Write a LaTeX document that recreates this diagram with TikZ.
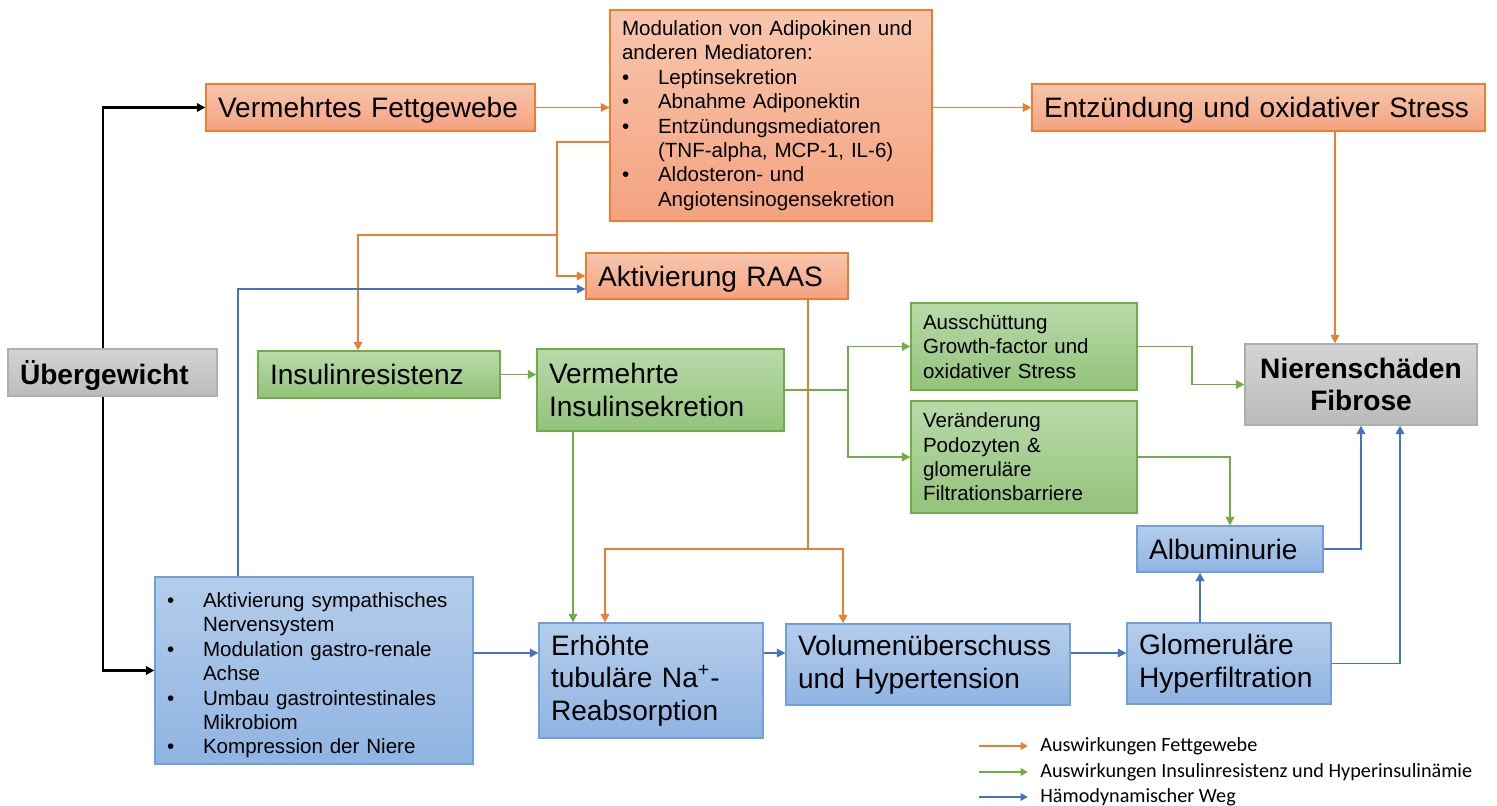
\documentclass[tikz,border=0pt]{standalone}
\usepackage{fontspec}
\setmainfont{Liberation Sans}
\newfontfamily\legendfont{Carlito}
\usetikzlibrary{arrows.meta}

\definecolor{orgline}{HTML}{ED7D31}
\definecolor{orgtop}{HTML}{F8C6AD}
\definecolor{orgbot}{HTML}{F4A27F}
\definecolor{grnline}{HTML}{70AD47}
\definecolor{grntop}{HTML}{B9D9AA}
\definecolor{grnbot}{HTML}{93C37B}
\definecolor{bluline}{HTML}{4472C4}
\definecolor{blutop}{HTML}{B4CDEB}
\definecolor{blubot}{HTML}{8FB4E2}
\definecolor{bluedge}{HTML}{6FA0DC}
\definecolor{grayline}{HTML}{AFAFAF}
\definecolor{graytop}{HTML}{D4D4D4}
\definecolor{graybot}{HTML}{BBBBBB}
\definecolor{blkline}{HTML}{000000}

\newcommand{\bigtxt}{\fontsize{16pt}{18.5pt}\selectfont}
\newcommand{\smalltxt}{\fontsize{11.7pt}{13.9pt}\selectfont}
\newcommand{\bitem}[1]{\par\noindent\hangindent=0.72cm\hangafter=1\makebox[0.72cm][l]{\textbullet}#1}

\begin{document}
\begin{tikzpicture}[
  x=0.02cm, y=-0.02cm,
  block/.style={rectangle, draw=#1line, line width=0.75pt, top color=#1top, bottom color=#1bot,
    inner xsep=0.24cm, inner ysep=0pt, align=left, font=\bigtxt},
  oneline/.style={text depth=0pt},
  link/.style={line width=1.1pt, draw=#1line},
  arrow/.style={link=#1, -{Triangle[length=0.17cm, width=0.17cm]}},
  legarrow/.style={line width=1pt, draw=#1line, -{Triangle[length=0.15cm, width=0.15cm]}},
  legend/.style={font=\legendfont\fontsize{11.5pt}{13pt}\selectfont, inner sep=0.1cm, anchor=west}
]
  \fill[white] (0,0) rectangle (1497,805);
  \useasboundingbox (0,0) rectangle (1497,805);

  % helper rows and columns
  \coordinate (row142) at (0,142);
  \coordinate (row289) at (0,289);
  \coordinate (row653) at (0,653);
  \coordinate (col103) at (103,0);
  \coordinate (col238) at (238,0);
  \coordinate (col358) at (358,0);
  \coordinate (col573) at (573,0);
  \coordinate (col605) at (605,0);
  \coordinate (col808) at (808,0);
  \coordinate (col843) at (843,0);
  \coordinate (col1192) at (1192,0);
  \coordinate (col1200) at (1200,0);
  \coordinate (col1335) at (1335,0);
  \coordinate (col1400) at (1400,0);
  \coordinate (split) at (557,235);
  \coordinate (rsplit) at (808,549);
  \coordinate (gsplit) at (848,390);

  \node[block=gray, oneline, font=\bigtxt\bfseries, text width=3.70cm, minimum height=0.94cm] (ueber) at (112.5,372.5) {Übergewicht};
  \node[block=org, oneline, text width=6.10cm, minimum height=0.94cm] (fett) at (370.5,107.5) {Vermehrtes Fettgewebe};
  \node[block=org, font=\smalltxt, text width=5.96cm, minimum height=4.22cm] (modul) at (771,115.5) {Modulation von Adipokinen und anderen Mediatoren:
    \bitem{Leptinsekretion}
    \bitem{Abnahme Adiponektin}
    \bitem{Entzündungsmediatoren\newline (TNF-alpha, MCP-1, IL-6)}
    \bitem{Aldosteron- und\newline Angiotensinogensekretion}\par};
  \node[block=org, oneline, text width=8.58cm, minimum height=0.94cm] (entz) at (1258.5,107.5) {Entzündung und oxidativer Stress};
  \node[block=org, oneline, text width=4.76cm, minimum height=0.92cm] (raas) at (717,276) {Aktivierung RAAS};

  \node[block=grn, oneline, text width=4.36cm, minimum height=0.94cm] (insres) at (379,374.5) {Insulinresistenz};
  \node[block=grn, text width=4.46cm, minimum height=1.64cm] (insek) at (660.5,390) {Vermehrte\\Insulinsekretion};
  \node[block=grn, font=\smalltxt, text width=4.04cm, minimum height=1.74cm] (growth) at (1024,346.5) {Ausschüttung\\Growth-factor und\\oxidativer Stress};
  \node[block=grn, font=\smalltxt, text width=4.04cm, minimum height=2.24cm] (podo) at (1024,457) {Veränderung\\Podozyten \&\\glomeruläre\\Filtrationsbarriere};

  \node[block=gray, font=\bigtxt\bfseries, align=center, text width=4.16cm, minimum height=1.62cm] (niere) at (1361,384.5) {Nierenschäden\\Fibrose};

  \node[block=blu, oneline, draw=bluedge, text width=3.24cm, minimum height=0.92cm] (albu) at (1230,549) {Albuminurie};
  \node[block=blu, draw=bluedge, font=\smalltxt, text width=5.88cm, minimum height=3.74cm] (hemo) at (314,670.5) {%
    \bitem{Aktivierung sympathisches\newline Nervensystem}
    \bitem{Modulation gastro-renale\newline Achse}
    \bitem{Umbau gastrointestinales\newline Mikrobiom}
    \bitem{Kompression der Niere}\par};
  \node[block=blu, draw=bluedge, text width=4.00cm, minimum height=2.30cm] (natrium) at (651,680.5) {Erhöhte\\tubuläre Na\textsuperscript{+}-\\Reabsorption};
  \node[block=blu, draw=bluedge, text width=5.20cm, minimum height=1.62cm] (volumen) at (928,664.5) {Volumenüberschuss\\und Hypertension};
  \node[block=blu, draw=bluedge, text width=3.60cm, minimum height=1.62cm] (glom) at (1229,663.5) {Glomeruläre\\Hyperfiltration};

  % black
  \draw[arrow=blk, line width=1.4pt] (ueber.north -| col103) |- (fett.west);
  \draw[arrow=blk, line width=1.4pt] (ueber.south -| col103) |- (hemo.west);

  % fat tissue
  \draw[arrow=org] (fett.east) -- (fett.east -| modul.west);
  \draw[arrow=org] (entz.west -| modul.east) -- (entz.west);
  \draw[arrow=org] (modul.west |- row142) -| (split) |- (raas.west);
  \draw[arrow=org] (split) -| (insres.north -| col358);
  \draw[arrow=org] (entz.south -| col1335) -- (niere.north -| col1335);
  \draw[link=org] (raas.south -| col808) -- (rsplit);
  \draw[arrow=org] (rsplit) -| (natrium.north -| col605);
  \draw[arrow=org] (rsplit) -| (volumen.north -| col843);

  % insulin
  \draw[arrow=grn] (insres.east) -- (insres.east -| insek.west);
  \draw[link=grn] (insek.east) -- (gsplit);
  \draw[arrow=grn] (gsplit) |- (growth.west);
  \draw[arrow=grn] (gsplit) |- (podo.west);
  \draw[arrow=grn] (insek.south -| col573) -- (natrium.north -| col573);
  \draw[arrow=grn] (growth.east) -- (growth.east -| col1192) |- (niere.west);
  \draw[arrow=grn] (podo.east) -| (albu.north);

  % haemodynamic
  \draw[arrow=blu] (hemo.north -| col238) |- (raas.west |- row289);
  \draw[arrow=blu] (hemo.east |- row653) -- (natrium.west |- row653);
  \draw[arrow=blu] (natrium.east |- row653) -- (volumen.west |- row653);
  \draw[arrow=blu] (volumen.east |- row653) -- (glom.west |- row653);
  \draw[arrow=blu] (glom.north -| col1200) -- (albu.south -| col1200);
  \draw[arrow=blu] (albu.east) -| (niere.south);
  \draw[arrow=blu] (glom.east) -| (niere.south -| col1400);

  % legend
  \node[legend] (leg1) at (1035,746) {Auswirkungen Fettgewebe};
  \node[legend] (leg2) at (1035,772) {Auswirkungen Insulinresistenz und Hyperinsulinämie};
  \node[legend] (leg3) at (1035,797) {Hämodynamischer Weg};
  \draw[legarrow=org] ([xshift=-1.12cm]leg1.west) -- ([xshift=-0.14cm]leg1.west);
  \draw[legarrow=grn] ([xshift=-1.12cm]leg2.west) -- ([xshift=-0.14cm]leg2.west);
  \draw[legarrow=blu] ([xshift=-1.12cm]leg3.west) -- ([xshift=-0.14cm]leg3.west);
\end{tikzpicture}
\end{document}
